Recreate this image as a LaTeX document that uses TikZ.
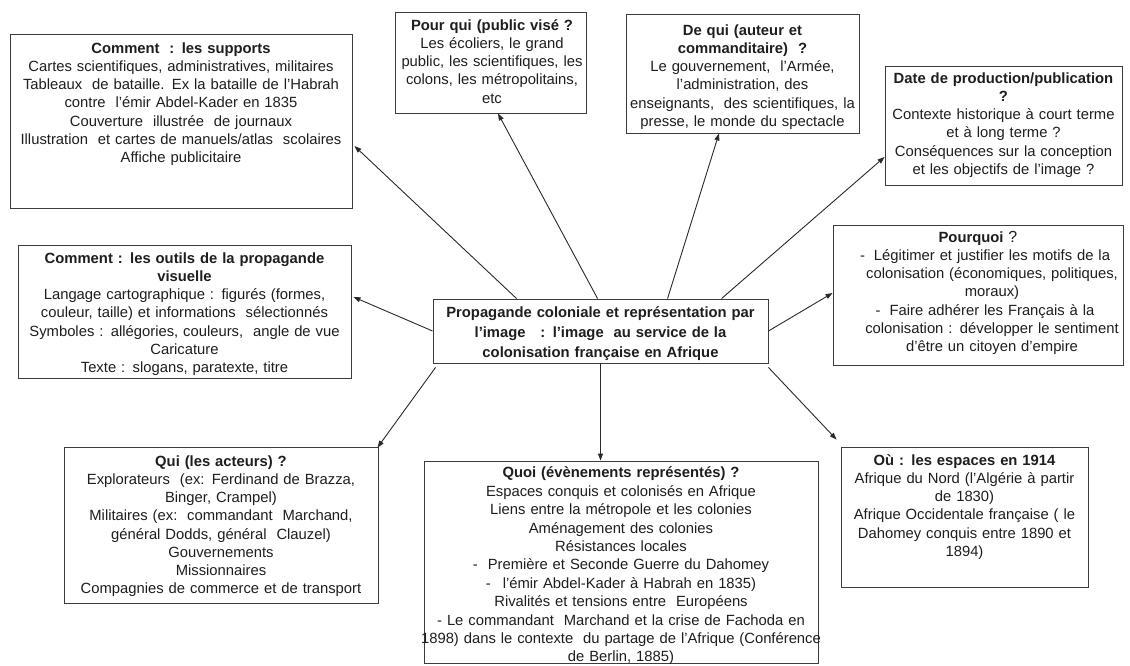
\documentclass[tikz,border=0pt]{standalone}
\usepackage{fontspec}
\setmainfont{Liberation Sans}
\usetikzlibrary{arrows.meta,calc}
\definecolor{boxgray}{HTML}{3C3C3C}
\definecolor{linegray}{HTML}{2A2A2A}
\definecolor{txtgray}{HTML}{1E1E1E}
\newcommand\hangdash[1]{\leavevmode\llap{-\hspace{#1}}}
\begin{document}
\begin{tikzpicture}[x=1pt,y=-1pt,
  box/.style={draw=boxgray, line width=0.9pt, inner sep=0pt, rectangle, fill=white},
  txt/.style={inner sep=0pt, align=center, anchor=base, text=txtgray,
              font=\fontsize{14.8}{18.2}\selectfont},
  conn/.style={draw=linegray, line width=0.9pt, -{Triangle[length=7pt,width=5pt]}}]
\useasboundingbox[fill=white] (0,0) rectangle (1130,666);

% boxes
\node[box, minimum width=342pt, minimum height=174pt] (b1) at (181,121) {};
\node[box, minimum width=191pt, minimum height=101pt] (b2) at (490.5,62.5) {};
\node[box, minimum width=233pt, minimum height=119pt] (b3) at (742.5,73.5) {};
\node[box, minimum width=237pt, minimum height=119pt] (b4) at (1003.5,125.5) {};
\node[box, minimum width=333pt, minimum height=133pt] (b5) at (184.5,311.5) {};
\node[box, minimum width=290pt, minimum height=140pt] (b6) at (978,295) {};
\node[box, minimum width=335pt, minimum height=64pt] (c) at (600.5,331) {};
\node[box, minimum width=314pt, minimum height=156pt] (b8) at (221,525) {};
\node[box, minimum width=394pt, minimum height=202pt] (b9) at (621,562) {};
\node[box, minimum width=247pt, minimum height=140pt] (b10) at (964.5,517) {};

% texts
\node[txt, text width=380pt] (b1t) at (181,53.3) {\textbf{Comment\ \ : les supports}\\
Cartes scientifiques, administratives, militaires\\
Tableaux\ \ de bataille. Ex la bataille de l’Habrah\\
contre\ \ l’émir Abdel-Kader en 1835\\
Couverture\ \ illustrée\ \ de journaux\\
Illustration\ \ et cartes de manuels/atlas\ \ scolaires\\
Affiche publicitaire};

\node[txt, text width=230pt] (b2t) at (492,30.3) {\textbf{Pour qui (public visé ?}\\
Les écoliers, le grand\\
public, les scientifiques, les\\
colons, les métropolitains,\\
etc};

\node[txt, text width=270pt] (b3t) at (742.5,35.3) {\textbf{De qui (auteur et}\\
\textbf{commanditaire)\ \ ?}\\
Le gouvernement,\ \ l’Armée,\\
l’administration, des\\
enseignants,\ \ des scientifiques, la\\
presse, le monde du spectacle};

\node[txt, text width=270pt] (b4t) at (1003.5,83.3) {\textbf{Date de production/publication}\\
\textbf{?}\\
Contexte historique à court terme\\
et à long terme ?\\
Conséquences sur la conception\\
et les objectifs de l’image ?};

\node[txt, text width=370pt] (b5t) at (184.5,263.3) {\textbf{Comment : les outils de la propagande}\\
\textbf{visuelle}\\
Langage cartographique : figurés (formes,\\
couleur, taille) et informations\ \ sélectionnés\\
Symboles : allégories, couleurs,\ \ angle de vue\\
Caricature\\
Texte : slogans, paratexte, titre};

\node[txt, text width=300pt] (b6t) at (992,242.3) {\leavevmode\makebox[0pt][c]{\hspace{-28pt}\textbf{Pourquoi} {\fontsize{16}{18}\selectfont ?}}\\
\hangdash{9pt}Légitimer et justifier les motifs de la\\
colonisation (économiques, politiques,\\
moraux)\\
\hangdash{9pt}Faire adhérer les Français à la\hspace{12pt}\\
colonisation : développer le sentiment\\
d’être un citoyen d’empire};

\node[txt, text width=370pt, font=\fontsize{14.8}{20}\selectfont\bfseries] (ct) at (600.5,317.3) {Propagande coloniale et représentation par\\
l’image\ \ \ : l’image\ \ au service de la\\
colonisation française en Afrique};

\node[txt, text width=350pt] (b8t) at (221,466.3) {\textbf{Qui (les acteurs) ?}\\
Explorateurs\ \ (ex: Ferdinand de Brazza,\\
Binger, Crampel)\\
Militaires (ex:\ \ commandant\ \ Marchand,\\
général Dodds, général\ \ Clauzel)\\
Gouvernements\\
Missionnaires\\
Compagnies de commerce et de transport};

\node[txt, text width=420pt, font=\fontsize{14.8}{18.4}\selectfont] (b9t) at (621,477.8) {\textbf{Quoi (évènements représentés) ?}\\
Espaces conquis et colonisés en Afrique\\
Liens entre la métropole et les colonies\\
Aménagement des colonies\\
Résistances locales\\
-\hspace{10pt}Première et Seconde Guerre du Dahomey\\
-\hspace{12pt}l’émir Abdel-Kader à Habrah en 1835)\\
Rivalités et tensions entre\ \ Européens\\
- Le commandant\ \ Marchand et la crise de Fachoda en\\
1898) dans le contexte\ \ du partage de l’Afrique (Conférence\\
de Berlin, 1885)};

\node[txt, text width=280pt] (b10t) at (964.5,465.3) {\textbf{Où : les espaces en 1914}\\
Afrique du Nord (l’Algérie à partir\\
de 1830)\\
Afrique Occidentale française ( le\\
Dahomey conquis entre 1890 et\\
1894)};

% connectors
\draw[conn] ($(c.north west)+(84,0)$) -- ($(b1.east)+(2,25)$);
\draw[conn] ($(c.north west)+(165,0)$) -- ($(b2.south)+(7.5,0)$);
\draw[conn] ($(c.north west)+(235,0)$) -- ($(b3.south)+(-23.5,0)$);
\draw[conn] ($(c.north west)+(289,0)$) -- ($(b4.west)+(0,31.5)$);
\draw[conn] (c.east) -- ($(b6.west)+(0,-2)$);
\draw[conn] (c.west) -- ($(b5.east)+(2,-14.5)$);
\draw[conn] ($(c.south west)+(3,4)$) -- ($(b8.north east)+(-1,1)$);
\draw[conn] (c.south) -- (c.south |- b9.north);
\draw[conn] ($(c.south east)+(0,4)$) -- ($(b10.north west)+(-4,-7)$);
\end{tikzpicture}
\end{document}
